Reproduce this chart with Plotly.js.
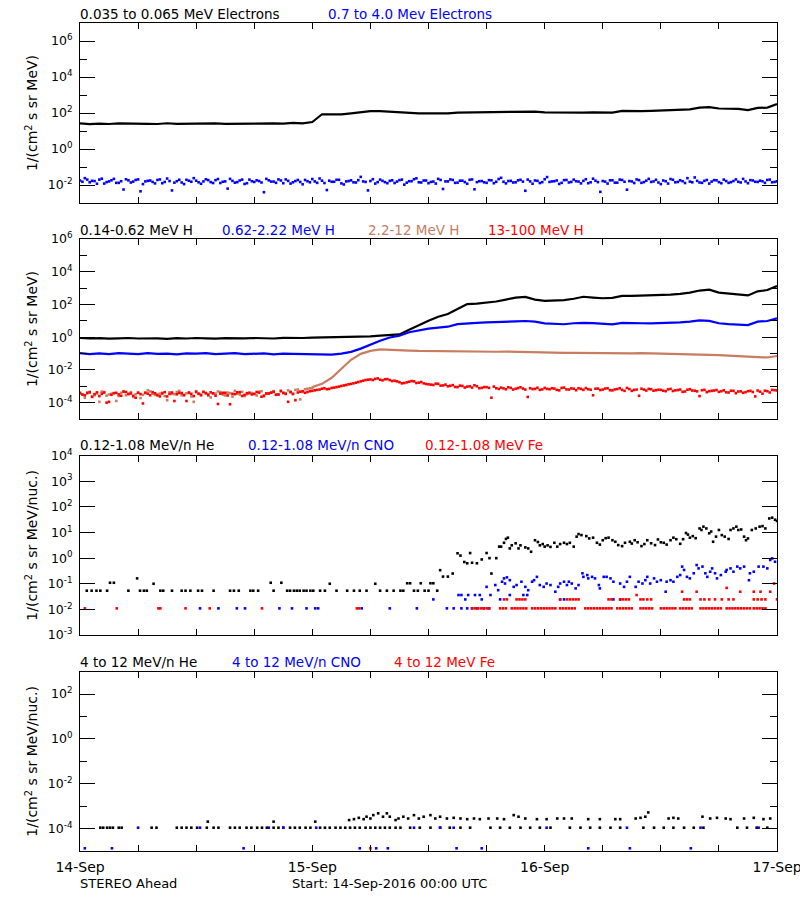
<!DOCTYPE html>
<html><head><meta charset="utf-8">
<script src="https://cdn.plot.ly/plotly-3.0.1.min.js"></script>
<style>html,body{margin:0;padding:0;background:#fff}#chart{width:800px;height:900px}</style>
</head><body><div id="chart"></div>
<script>
// ---------- time axis (hours since 14-Sep-2016 00:00 UTC) ----------
const dayHours = [0,24,48,72];
const dayLabels = ['14-Sep','15-Sep','16-Sep','17-Sep'];
const sixHourTicks = [6,12,18,30,36,42,54,60,66];

// ---------- Panel 1: electrons (log10 flux) ----------
// 0.035-0.065 MeV electrons, hourly from 0 h
const eLoLog = [1.42,1.38,1.41,1.39,1.42,1.40,1.41,1.40,1.39,1.43,1.40,1.41,1.40,1.42,1.42,1.40,1.41,1.43,1.41,1.43,1.42,1.41,1.45,1.42,
 1.50,1.93,1.92,1.92,1.98,2.05,2.10,2.10,2.07,
 2.00,1.99,1.98,1.98,1.97,1.98,2.02,2.03,2.03,2.04,2.05,2.05,2.06,2.05,2.08,2.03,2.02,2.01,2.02,2.02,2.03,2.04,2.02,2.12,2.09,2.10,2.12,2.13,2.15,2.17,2.20,2.30,2.33,2.25,2.24,2.23,2.16,2.28,2.30,2.50];
// 0.7-4.0 MeV electrons, every 0.5 h from 0 h
const eHiLog = [-1.75,-1.62,-1.85,-1.78,-1.70,-1.92,-1.80,-1.66,-1.88,-2.25,-1.74,-1.81,-1.69,-1.95,-1.77,-1.83,-1.72,-1.90,-1.64,-2.30,
 -1.79,-1.86,-1.71,-1.82,-1.76,-1.93,-1.68,-1.84,-1.73,-1.89,-1.80,-1.66,-1.87,-1.75,-1.94,-1.70,-1.83,-1.78,-2.40,-1.74,
 -1.81,-1.69,-1.90,-1.77,-1.85,-1.72,-1.96,-1.79,-1.67,-1.88,-1.76,-2.28,-1.82,-1.71,-1.91,-1.80,-1.74,-1.86,-1.55,-1.83,
 -1.78,-1.92,-1.70,-1.84,-1.77,-1.89,-1.73,-1.98,-1.79,-1.68,-1.85,-1.75,-1.90,-1.81,-1.66,-2.22,-1.80,-1.72,-1.87,-1.76,
 -1.93,-1.69,-1.84,-1.78,-1.88,-1.74,-1.82,-1.60,-1.91,-1.77,-1.85,-1.71,-2.32,-1.80,-1.75,-1.89,-1.68,-1.83,-1.79,-1.94,
 -1.73,-1.86,-1.70,-1.81,-1.77,-1.90,-1.65,-1.84,-1.78,-1.92,-1.74,-1.87,-1.72,-2.26,-1.80,-1.69,-1.88,-1.76,-1.83,-1.71,
 -1.95,-1.79,-1.67,-1.85,-1.74,-1.89,-1.81,-1.58,-1.86,-1.77,-1.92,-1.73,-1.84,-1.70,-1.88,-1.78,-1.82,-1.66,-1.90,-1.75,
 -1.83,-1.79,-1.72,-1.85,-1.80];
// same channel, the in-between samples (every 0.5 h from 0.25 h)
const eHiLogB = [-1.82,-1.70,-1.77,-1.93,-1.65,-1.84,-1.74,-1.88,-1.79,-1.68,-1.86,-1.72,-2.35,-1.80,-1.75,-1.91,-1.69,-1.83,-1.78,-1.87,
 -1.71,-1.95,-1.76,-1.62,-1.85,-1.80,-1.73,-1.89,-1.67,-1.82,-2.20,-1.77,-1.84,-1.70,-1.90,-1.79,-1.74,-1.86,-1.66,-1.81,
 -1.88,-1.75,-1.69,-1.92,-1.78,-1.83,-1.72,-1.85,-1.80,-1.64,-1.89,-1.76,-1.82,-1.71,-1.97,-1.78,-1.85,-1.73,-1.80,-2.30,
 -1.68,-1.84,-1.77,-1.90,-1.74,-1.81,-1.70,-1.87,-1.79,-1.63,-1.86,-1.75,-1.83,-1.92,-1.72,-1.80,-1.69,-1.88,-1.76,-1.84,
 -1.71,-2.24,-1.79,-1.85,-1.73,-1.90,-1.67,-1.82,-1.78,-1.86,-1.74,-1.81,-1.70,-1.93,-1.77,-1.84,-1.56,-1.80,-1.75,-1.88,
 -1.72,-1.83,-1.79,-1.91,-1.68,-1.85,-1.76,-2.38,-1.81,-1.74,-1.87,-1.70,-1.82,-1.78,-1.89,-1.73,-1.84,-1.66,-1.80,-1.86,
 -1.75,-1.92,-1.71,-1.83,-1.79,-1.62,-1.85,-1.77,-1.88,-1.72,-1.81,-1.74,-1.90,-1.78,-1.84,-1.69,-1.86,-1.80,-1.73,-1.82,
 -1.76,-1.88,-1.70,-1.83];

// ---------- Panel 2: protons (log10 flux) ----------
// 0.14-0.62 MeV H, hourly
const hLoLog = [-0.05,-0.08,-0.06,-0.09,-0.07,-0.05,-0.08,-0.06,-0.07,-0.10,-0.06,-0.08,-0.05,-0.07,-0.09,-0.06,-0.08,-0.07,-0.05,-0.06,-0.08,-0.04,-0.06,-0.05,
 -0.03,-0.02,-0.02,0.00,0.00,0.02,0.05,0.09,0.12,
 0.17,0.45,0.75,1.00,1.25,1.42,1.72,2.02,2.05,2.10,2.18,2.30,2.42,2.46,2.30,2.22,2.24,2.27,2.35,2.47,2.42,2.38,2.40,2.52,2.52,2.53,2.54,2.57,2.60,2.65,2.72,2.85,2.90,2.72,2.65,2.60,2.55,2.80,2.88,3.13];
// 0.62-2.22 MeV H, hourly
const hMidLog = [-0.98,-1.03,-0.99,-1.04,-0.97,-1.01,-1.04,-0.98,-1.02,-1.00,-1.05,-0.99,-1.01,-0.98,-1.03,-1.00,-0.97,-1.04,-1.01,-0.99,-1.05,-1.00,-1.02,-1.03,
 -1.05,-1.07,-1.06,-1.00,-0.90,-0.70,-0.45,-0.22,-0.02,
 0.09,0.30,0.42,0.52,0.58,0.64,0.80,0.86,0.88,0.90,0.91,0.93,0.97,0.99,0.95,0.84,0.80,0.79,0.85,0.88,0.86,0.82,0.78,0.87,0.84,0.85,0.84,0.85,0.86,0.90,0.95,1.03,1.00,0.85,0.80,0.76,0.74,0.95,0.99,1.15];
// 2.2-12 MeV H: every 0.5 h from 0 to 24 h (two interleaved sets), then hourly from 24 h
const hHiPreLog = [-3.45,-3.70,-3.40,-3.55,-3.95,-3.35,-3.50,-3.42,-3.60,-3.30,-3.48,-3.65,-3.38,-3.52,-3.25,-3.45,-3.58,-3.40,-3.85,-3.47,
 -3.35,-3.55,-3.43,-3.62,-3.30,-3.50,-3.40,-3.68,-3.45,-3.35,-3.56,-3.42,-3.28,-3.50,-3.60,-3.38,-3.46,-3.33,-3.55,-3.44,
 -3.30,-3.52,-3.40,-3.25,-3.48,-3.20,-3.35,-3.15,-3.10];
const hHiPreLogB = [-3.52,-3.38,-3.62,-3.44,-3.33,-3.57,-3.46,-3.90,-3.40,-3.55,-3.36,-3.49,-3.72,-3.42,-3.31,-3.53,-3.45,-3.60,-3.37,-3.48,
 -3.28,-3.56,-3.41,-3.95,-3.47,-3.35,-3.58,-3.44,-3.32,-3.51,-3.39,-3.63,-3.46,-3.34,-3.49,-3.41,-3.56,-3.30,-3.45,-3.38,
 -3.52,-3.27,-3.42,-3.33,-3.22,-3.80,-3.18,-3.12];
const hHiPostLog = [-3.05,-2.85,-2.48,-1.92,-1.38,-1.02,-0.84,-0.75,-0.76,-0.80,-0.82,-0.84,-0.85,-0.84,-0.85,-0.86,-0.85,-0.86,-0.88,-0.89,
 -0.88,-0.90,-0.92,-0.93,-0.95,-0.95,-0.96,-0.96,-0.97,-0.98,-0.99,-0.99,-0.99,-0.99,-0.98,-0.99,-1.00,-1.01,-1.02,-1.04,
 -1.06,-1.08,-1.10,-1.13,-1.17,-1.20,-1.22,-1.24,-1.15];
// 13-100 MeV H, every 0.5 h from 0 h, plus in-between samples from 0.25 h
const hTopLog = [-3.40,-3.55,-3.35,-3.48,-3.60,-3.38,-3.95,-3.42,-3.50,-3.33,-3.47,-3.58,-3.40,-4.05,-3.45,-3.36,-3.52,-3.44,-3.62,-3.38,
 -3.49,-3.41,-3.90,-3.46,-3.35,-3.55,-3.43,-3.37,-3.58,-3.45,-3.40,-4.10,-3.48,-3.36,-3.53,-3.42,-3.47,-3.39,-3.60,-3.44,
 -3.34,-3.50,-3.41,-3.95,-3.46,-3.38,-3.30,-3.35,-3.28,
 -3.22,-3.15,-3.18,-3.10,-3.05,-2.98,-2.92,-2.85,-2.78,-2.70,-2.62,
 -2.58,-2.55,-2.60,-2.57,-2.62,-2.66,-2.75,-2.80,-2.72,-2.70,-2.78,-2.82,
 -2.88,-2.92,-2.85,-2.95,-3.00,-2.93,-3.05,-2.98,-3.02,-3.08,-3.00,-3.10,
 -3.05,-3.70,-3.12,-3.08,-3.18,-3.10,-3.15,-3.06,-3.20,-3.12,-3.16,-3.22,
 -3.10,-3.18,-3.14,-3.25,-3.08,-3.20,-3.15,-3.12,-3.22,-3.18,-3.55,-3.14,
 -3.20,-3.12,-3.25,-3.17,-3.22,-3.10,-3.28,-3.20,-3.15,-3.26,-3.18,-3.24,
 -3.22,-3.30,-3.16,-3.25,-3.20,-3.32,-3.18,-3.27,-3.60,-3.22,-3.30,-3.26,
 -3.34,-3.25,-3.38,-3.28,-3.32,-3.40,-3.30,-3.35,-3.26,-3.45,-3.30,-3.22,-3.25];
const hTopLogB = [-3.50,-3.42,-3.65,-3.37,-3.46,-4.00,-3.52,-3.40,-3.58,-3.35,-3.44,-3.70,-3.48,-3.39,-3.55,-3.43,-3.62,-3.36,-3.47,-3.90,
 -3.41,-3.53,-3.38,-3.60,-3.45,-3.34,-3.51,-3.43,-4.08,-3.40,-3.56,-3.46,-3.37,-3.59,-3.42,-3.50,-3.35,-3.64,-3.44,-3.39,
 -3.52,-3.30,-3.47,-3.36,-3.85,-3.33,-3.40,-3.30,
 -3.25,-3.20,-3.12,-3.16,-3.08,-3.02,-2.95,-2.88,-2.82,-2.74,-2.66,-2.60,
 -2.62,-2.52,-2.64,-2.56,-2.68,-2.70,-2.82,-2.76,-2.68,-2.80,-2.74,-2.86,
 -2.90,-2.84,-2.96,-2.90,-2.97,-3.04,-2.96,-3.08,-3.00,-2.94,-3.12,-3.05,
 -3.10,-3.02,-3.16,-3.13,-3.06,-3.20,-3.11,-3.14,-3.65,-3.17,-3.09,-3.19,
 -3.16,-3.12,-3.22,-3.10,-3.19,-3.13,-3.24,-3.16,-3.11,-3.21,-3.15,-3.23,
 -3.14,-3.24,-3.19,-3.12,-3.28,-3.17,-3.22,-3.58,-3.20,-3.16,-3.27,-3.21,
 -3.27,-3.19,-3.29,-3.23,-3.34,-3.21,-3.26,-3.31,-3.24,-3.36,-3.28,-3.23,
 -3.30,-3.37,-3.27,-3.42,-3.31,-3.36,-3.28,-3.62,-3.33,-3.27,-3.38,-3.24];

// ---------- Panel 3: 0.12-1.08 MeV/n ions (hours, log10 flux) ----------
const he3PreT = [0.7,1.2,1.7,2.1,2.8,3.1,3.5,5.0,5.9,6.2,6.6,6.9,7.6,8.3,8.6,9.5,10.5,10.9,11.4,12.2,12.6,13.8,15.5,15.9,16.4,17.6,17.9,18.4,19.7,20.0,
 20.8,21.4,21.7,22.1,22.4,22.7,23.1,23.4,23.8,24.1,24.8,25.3,25.8,26.5,27.6,28.3,28.9,29.6,30.5,31.0,31.7,32.4,33.1,33.4,33.8,34.1,34.5,34.9,35.2,35.6,
 36.0,36.2,36.5,36.9];
const he3PreV = [-1.27,-1.27,-1.27,-1.27,-1.27,-0.96,-0.96,-1.27,-0.79,-1.27,-1.27,-1.27,-1.00,-1.27,-1.27,-1.27,-1.27,-1.27,-1.27,-1.27,-1.27,-1.27,-1.27,-1.27,-1.27,-1.27,-1.27,-1.27,-0.96,-1.27,
 -0.96,-1.27,-1.27,-1.27,-1.27,-1.27,-1.27,-1.27,-1.27,-1.27,-1.27,-1.27,-1.00,-1.27,-1.27,-1.27,-1.27,-1.27,-1.00,-1.27,-1.27,-1.27,-1.27,-1.27,-0.98,-0.98,-1.27,-1.27,-0.98,-1.27,
 -1.27,-0.98,-0.98,-1.27];
const he3PostT = [37.2,37.5,38.0,38.5,39.0,39.3,39.7,40.0,40.3,40.5,41.0,41.5,42.0,42.3,42.5,43.0,43.3,43.5,43.8,44.0,
 44.2,44.4,44.6,45.0,45.3,45.5,46.0,46.3,46.6,47.0,47.3,47.5,47.8,48.0,48.3,48.6,49.0,49.3,49.6,50.0,
 50.3,50.6,51.0,51.3,51.5,51.8,52.3,52.6,53.0,53.4,53.7,54.0,54.3,54.6,55.0,55.3,55.6,56.0,56.3,56.8,
 57.0,57.3,57.6,58.0,58.3,58.6,59.0,59.4,59.7,60.0,60.3,60.6,61.0,61.3,61.6,62.0,62.3,62.6,62.8,63.0,
 63.3,63.6,64.0,64.2,64.4,64.7,65.0,65.2,65.4,65.7,66.0,66.3,66.6,67.0,67.2,67.5,67.8,68.0,68.3,68.6,
 68.8,69.0,69.4,69.8,70.2,70.5,70.8,71.2,71.5,71.8,72.0];
const he3PostV = [-0.47,-0.72,-0.72,-0.60,0.19,0.10,-0.15,-0.20,0.20,-0.18,-0.20,-0.05,0.20,0.00,-0.60,0.00,0.45,0.45,0.60,0.75,
 0.80,0.38,0.50,0.58,0.38,0.50,0.42,0.38,0.25,0.70,0.63,0.50,0.55,0.45,0.50,0.44,0.60,0.45,0.55,0.60,
 0.55,0.60,0.45,0.84,0.94,0.90,0.86,0.77,0.80,0.60,0.53,0.70,0.78,0.80,0.70,0.64,0.51,0.47,0.60,0.64,
 0.57,0.70,0.62,0.47,0.55,0.70,0.58,0.51,0.73,0.62,0.60,0.53,0.70,0.80,0.74,0.56,0.74,0.98,0.92,0.80,
 0.86,0.78,1.16,1.10,1.23,1.16,0.97,1.04,0.64,0.84,1.10,0.90,0.84,0.75,1.10,1.16,1.23,1.10,1.12,0.84,
 0.70,0.77,1.10,1.16,1.23,1.25,1.16,1.55,1.58,1.50,1.45];
const cno3T = [12.4,14.3,16.2,17.05,20.6,21.9,23.4,24.3,24.6,29.1,32.0,
 34.8,36.5,37.9,38.6,39.1,39.4,39.4,39.8,40.0,40.1,40.5,40.8,41.0,41.3,41.5,41.7,42.0,42.2,42.4,42.9,
 43.2,43.4,43.6,43.8,43.9,44.1,44.4,44.4,44.8,45.1,45.6,45.8,46.0,46.2,46.3,46.7,46.9,47.2,47.5,47.9,
 48.2,48.6,49.1,49.4,49.6,49.6,50.0,50.0,50.3,50.5,50.8,51.2,51.5,51.9,52.0,52.4,52.5,52.9,53.2,53.6,
 53.7,54.1,54.4,54.8,55.1,55.1,55.8,55.8,56.2,56.5,56.8,57.4,57.7,58.1,58.4,58.6,58.9,59.3,59.6,60.0,
 60.5,60.6,61.0,61.3,61.7,62.0,62.2,62.4,62.7,63.0,63.4,63.7,63.9,64.3,64.6,64.8,65.1,65.3,65.6,65.8,
 66.2,66.7,66.8,67.2,67.5,67.9,68.2,68.6,69.1,69.2,69.6,70.1,70.6,71.0,71.3,71.5,71.8];
const cno3V = [-1.96,-1.96,-1.96,-1.96,-1.96,-1.96,-1.96,-1.96,-1.96,-1.96,-1.96,
 -1.96,-1.61,-1.96,-1.96,-1.44,-1.44,-1.96,-1.61,-1.96,-1.44,-1.96,-1.44,-1.96,-1.44,-1.61,-1.96,-1.12,-1.96,-1.44,-1.05,
 -1.25,-1.61,-0.92,-0.79,-0.99,-0.75,-0.86,-1.44,-1.12,-1.05,-0.92,-1.44,-1.12,-1.44,-1.25,-0.92,-0.86,-0.73,-1.05,-1.12,
 -0.99,-1.05,-1.31,-1.12,-0.99,-1.61,-0.92,-1.61,-1.05,-0.92,-0.99,-1.18,-1.05,-0.59,-0.73,-0.66,-0.79,-0.73,-0.79,-1.05,
 -1.18,-0.73,-0.73,-0.79,-0.92,-1.61,-0.99,-1.61,-1.12,-0.92,-0.73,-1.12,-0.92,-0.99,-0.86,-0.73,-0.99,-0.79,-0.92,-0.86,
 -1.31,-0.92,-0.86,-0.92,-0.73,-0.66,-0.33,-0.46,-0.73,-0.79,-0.59,-0.27,-0.40,-0.33,-0.59,-0.73,-0.53,-0.40,-0.59,-0.79,
 -0.66,-0.53,-0.46,-0.40,-0.53,-0.33,-0.40,-0.33,-0.86,-0.59,-0.53,-0.33,-0.33,-0.40,-0.07,-0.01,-0.14];
const fe3T = [0.5,3.8,8.1,8.3,10.9,13.4,18.8,28.6,28.8,
 40.5,40.8,41.1,41.4,41.7,42.0,42.3,43.4,43.7,44.0,44.6,44.9,45.2,45.5,45.8,46.1,46.7,47.0,47.3,47.6,
 47.9,48.2,48.5,48.8,49.1,49.6,49.9,50.2,50.5,50.8,51.1,52.2,52.5,52.8,53.1,53.4,53.7,54.0,54.3,54.6,
 54.9,55.5,55.8,56.1,56.4,56.7,57.0,57.9,58.2,58.5,58.8,59.1,60.0,60.3,60.6,60.9,61.2,61.5,62.0,62.3,
 62.6,62.9,63.2,64.1,64.4,64.7,65.0,65.3,65.6,65.9,66.2,66.8,67.1,67.4,67.7,68.0,68.3,68.6,68.9,69.2,
 69.6,69.9,70.2,70.5,70.8,
 43.8,44.1,45.1,45.4,45.7,46.0,49.6,50.3,50.6,50.9,51.2,51.5,54.6,54.9,55.8,56.1,56.4,56.7,57.9,58.2,
 58.6,59.0,62.4,62.7,63.0,64.1,64.5,65.0,65.6,66.3,67.0,67.5,69.6,70.0,70.4,70.8,72.0,
 57.5,62.2,63.7,68.2,69.6,70.3,71.3,66.8,71.7];
const fe3V = [-1.96,-1.96,-1.96,-1.96,-1.96,-1.96,-1.96,-1.96,-1.96,
 -1.96,-1.96,-1.96,-1.96,-1.96,-1.96,-1.96,-1.96,-1.96,-1.96,-1.96,-1.96,-1.96,-1.96,-1.96,-1.96,-1.96,-1.96,-1.96,-1.96,
 -1.96,-1.96,-1.96,-1.96,-1.96,-1.96,-1.96,-1.96,-1.96,-1.96,-1.96,-1.96,-1.96,-1.96,-1.96,-1.96,-1.96,-1.96,-1.96,-1.96,
 -1.96,-1.96,-1.96,-1.96,-1.96,-1.96,-1.96,-1.96,-1.96,-1.96,-1.96,-1.96,-1.96,-1.96,-1.96,-1.96,-1.96,-1.96,-1.96,-1.96,
 -1.96,-1.96,-1.96,-1.96,-1.96,-1.96,-1.96,-1.96,-1.96,-1.96,-1.96,-1.96,-1.96,-1.96,-1.96,-1.96,-1.96,-1.96,-1.96,-1.96,
 -1.96,-1.96,-1.96,-1.96,-1.96,
 -1.61,-1.61,-1.61,-1.61,-1.61,-1.61,-1.61,-1.61,-1.61,-1.61,-1.61,-1.61,-1.61,-1.61,-1.61,-1.61,-1.61,-1.61,-1.61,-1.61,
 -1.61,-1.61,-1.61,-1.61,-1.61,-1.61,-1.61,-1.61,-1.61,-1.61,-1.61,-1.61,-1.61,-1.61,-1.61,-1.61,-1.61,
 -1.44,-1.31,-1.31,-1.31,-1.31,-1.31,-1.31,-1.16,-0.99];

// ---------- Panel 4: 4-12 MeV/n ions (hours, log10 flux) ----------
const he4T = [2.1,2.4,2.8,3.1,3.4,4.0,4.3,7.4,7.9,10.0,10.5,11.0,11.5,12.1,13.1,13.8,14.3,15.5,16.0,16.5,
 17.2,17.7,18.3,18.8,19.3,20.0,20.5,21.0,21.7,22.2,22.7,23.3,23.8,24.8,25.3,25.8,26.4,26.9,27.4,27.9,
 28.4,28.9,29.5,30.0,30.5,31.0,31.5,32.0,32.6,33.1,34.1,35.1,36.2,37.2,38.2,39.3,40.3,42.4,43.4,44.4,
 45.5,46.5,47.5,48.6,50.6,51.7,52.7,53.7,54.8,55.8,58.2,59.3,60.3,61.3,62.4,63.4,64.4,67.9,68.9,69.9,71.0,
 13.2,20.0,24.3,27.8,28.3,28.8,29.3,29.6,30.0,30.3,30.8,31.3,31.7,32.0,32.6,32.9,33.4,33.9,34.5,35.0,
 35.5,36.2,36.7,37.2,37.9,38.6,39.3,40.0,40.7,41.3,42.2,43.1,43.8,44.8,45.3,46.0,47.2,48.2,49.3,50.0,
 50.8,52.5,53.7,55.3,55.8,57.4,57.9,58.4,58.7,60.8,61.3,61.8,64.3,65.1,65.8,66.7,67.2,68.6,69.6,70.6,71.3];
const he4V = [-3.96,-3.96,-3.96,-3.96,-3.96,-3.96,-3.96,-3.96,-3.96,-3.96,-3.96,-3.96,-3.96,-3.96,-3.96,-3.96,-3.96,-3.96,-3.96,-3.96,
 -3.96,-3.96,-3.96,-3.96,-3.96,-3.96,-3.96,-3.96,-3.96,-3.96,-3.96,-3.96,-3.96,-3.96,-3.96,-3.96,-3.96,-3.96,-3.96,-3.96,
 -3.96,-3.96,-3.96,-3.96,-3.96,-3.96,-3.96,-3.96,-3.96,-3.96,-3.96,-3.96,-3.96,-3.96,-3.96,-3.96,-3.96,-3.96,-3.96,-3.96,
 -3.96,-3.96,-3.96,-3.96,-3.96,-3.96,-3.96,-3.96,-3.96,-3.96,-3.96,-3.96,-3.96,-3.96,-3.96,-3.96,-3.96,-3.96,-3.96,-3.96,-3.96,
 -3.69,-3.69,-3.69,-3.62,-3.58,-3.52,-3.58,-3.47,-3.55,-3.40,-3.32,-3.47,-3.32,-3.47,-3.62,-3.55,-3.47,-3.55,-3.40,-3.55,
 -3.47,-3.40,-3.55,-3.47,-3.55,-3.52,-3.55,-3.58,-3.55,-3.58,-3.55,-3.55,-3.58,-3.40,-3.47,-3.55,-3.58,-3.58,-3.55,-3.55,
 -3.55,-3.58,-3.58,-3.58,-3.58,-3.55,-3.52,-3.47,-3.28,-3.55,-3.52,-3.55,-3.47,-3.55,-3.52,-3.55,-3.58,-3.55,-3.52,-3.58,-3.55];
const cno4T = [0.5,3.3,16.9,28.9,30.6,31.8,38.9,41.5,52.5,56.8,63.1,6.0,12.4,19.5,21.0,24.4,34.5,37.2,38.6,48.2,56.5,64.1,70.1];
const cno4V = [-4.88,-4.88,-4.88,-4.88,-4.88,-4.88,-4.88,-4.88,-4.88,-4.88,-4.88,-3.96,-3.96,-3.96,-3.96,-3.96,-3.96,-3.96,-3.96,-3.96,-3.96,-3.96,-3.96];
const fe4T = [30.0];
const fe4V = [-4.88];

// ---------- axis decades ----------
const p1Major = [-2,0,2,4,6],  p1Minor = [-1,1,3,5];
const p2Major = [-4,-2,0,2,4,6], p2Minor = [-3,-1,1,3,5];
const p3Major = [-3,-2,-1,0,1,2,3,4];
const p4Major = [-4,-2,0,2], p4Minor = [-3,-1,1];

// ---------- build ----------
const BLACK = '#000000', BLUE = '#0000ff', RED = '#ff0000', BROWN = 'rgb(200,124,96)';
const p10 = a => a.map(v => Math.pow(10, v));
const axn = i => i === 1 ? '' : String(i);
function lineSeq(y, x0, dx, color, p) {
  return {type:'scatter', mode:'lines', y:p10(y), x0:x0, dx:dx, line:{color:color, width:2.2},
          xaxis:'x'+axn(p), yaxis:'y'+axn(p), hoverinfo:'skip'};
}
function dotSeq(y, x0, dx, color, p) {
  return {type:'scatter', mode:'markers', y:p10(y), x0:x0, dx:dx,
          marker:{symbol:'square', size:2.6, color:color, line:{width:0}},
          xaxis:'x'+axn(p), yaxis:'y'+axn(p), hoverinfo:'skip'};
}
function dots(x, y, color, p) {
  return {type:'scatter', mode:'markers', x:x, y:p10(y),
          marker:{symbol:'square', size:2.6, color:color, line:{width:0}},
          xaxis:'x'+axn(p), yaxis:'y'+axn(p), hoverinfo:'skip'};
}

const traces = [
  lineSeq(eLoLog, 0, 1, BLACK, 1),
  dotSeq(eHiLog, 0, 0.5, BLUE, 1),
  dotSeq(eHiLogB, 0.25, 0.5, BLUE, 1),
  lineSeq(hLoLog, 0, 1, BLACK, 2),
  lineSeq(hMidLog, 0, 1, BLUE, 2),
  dotSeq(hHiPreLog, 0, 0.5, BROWN, 2),
  dotSeq(hHiPreLogB, 0.25, 0.5, BROWN, 2),
  lineSeq(hHiPostLog, 24, 1, BROWN, 2),
  dotSeq(hTopLog, 0, 0.5, RED, 2),
  dotSeq(hTopLogB, 0.25, 0.5, RED, 2),
  dots(he3PreT.concat(he3PostT), he3PreV.concat(he3PostV), BLACK, 3),
  dots(cno3T, cno3V, BLUE, 3),
  dots(fe3T, fe3V, RED, 3),
  dots(he4T, he4V, BLACK, 4),
  dots(cno4T, cno4V, BLUE, 4),
  dots(fe4T, fe4V, RED, 4)
];

// plot area: x 80..777 px, y 23..851 px
const L = 80, R = 777, T = 23, B = 851;
const py = y => (B - y) / (B - T);
const px = x => (x - L) / (R - L);

function xax(p, labels) {
  const ax = {domain:[0,1], range:[0,72], anchor:'y'+axn(p), tickmode:'array', tickvals:dayHours,
    showticklabels: labels,
    ticks:'inside', ticklen:6, tickwidth:1, tickcolor:'#000', mirror:'ticks', showline:true,
    linecolor:'#000', linewidth:1, showgrid:false, zeroline:false,
    minor:{tickmode:'array', tickvals:sixHourTicks, ticks:'inside', ticklen:6, tickwidth:1, tickcolor:'#000', showgrid:false},
    automargin:false, fixedrange:true};
  if (labels) {
    ax.ticktext = dayLabels;
    ax.ticklabeloverflow = 'allow';
    ax.ticklabelstandoff = 3;
    ax.tickfont = {size:14};
  }
  return ax;
}
function yax(p, domain, range, major, minor, title) {
  const ax = {type:'log', domain:domain, range:range, anchor:'x'+axn(p), tickmode:'array',
    tickvals: major.map(e => Math.pow(10, e)), ticktext: major.map(e => '10<sup>' + e + '</sup>'),
    ticks:'inside', ticklen:15, tickwidth:1, tickcolor:'#000', mirror:'ticks', showline:true,
    linecolor:'#000', linewidth:1, showgrid:false, zeroline:false, tickfont:{size:12.5},
    ticklabelstandoff:4, automargin:false, fixedrange:true,
    title:{text:title, font:{size:14}, standoff:6}};
  if (minor) ax.minor = {tickmode:'array', tickvals: minor.map(e => Math.pow(10, e)), ticks:'inside',
    ticklen:7, tickwidth:1, tickcolor:'#000', showgrid:false};
  return ax;
}
const tMeV = '1/(cm<sup>2</sup> s sr MeV)';
const tNuc = '1/(cm<sup>2</sup> s sr MeV/nuc.)';

function ann(text, x, y, color, size) {
  return {text:text, x:px(x), y:py(y), xref:'paper', yref:'paper', xanchor:'left', yanchor:'middle',
          showarrow:false, borderpad:0, borderwidth:0, font:{size:size || 13.5, color:color}};
}

const layout = {
  width:800, height:900, margin:{l:L, r:800-R, t:T, b:900-B},
  paper_bgcolor:'#fff', plot_bgcolor:'#fff', showlegend:false,
  font:{family:'DejaVu Sans, sans-serif', size:13, color:'#000'},
  xaxis: xax(1, false), xaxis2: xax(2, false), xaxis3: xax(3, false), xaxis4: xax(4, true),
  yaxis:  yax(1, [py(203), 1], [-3, 7], p1Major, p1Minor, tMeV),
  yaxis2: yax(2, [py(419), py(239)], [-5, 6], p2Major, p2Minor, tMeV),
  yaxis3: yax(3, [py(635), py(455.7)], [-3, 4], p3Major, null, tNuc),
  yaxis4: yax(4, [0, py(671.7)], [-5, 3], p4Major, p4Minor, tNuc),
  annotations: [
    ann('0.035 to 0.065 MeV Electrons', 80, 14, BLACK),
    ann('0.7 to 4.0 Mev Electrons', 328, 14, BLUE),
    ann('0.14-0.62 MeV H', 80, 229.5, BLACK),
    ann('0.62-2.22 MeV H', 222, 229.5, BLUE),
    ann('2.2-12 MeV H', 368, 229.5, BROWN),
    ann('13-100 MeV H', 488, 229.5, RED),
    ann('0.12-1.08 MeV/n He', 80, 445, BLACK),
    ann('0.12-1.08 MeV/n CNO', 248, 445, BLUE),
    ann('0.12-1.08 MeV Fe', 425, 445, RED),
    ann('4 to 12 MeV/n He', 80, 662, BLACK),
    ann('4 to 12 MeV/n CNO', 232, 662, BLUE),
    ann('4 to 12 MeV Fe', 394, 662, RED),
    ann('STEREO Ahead', 80, 883, BLACK, 13),
    ann('Start: 14-Sep-2016 00:00 UTC', 292, 883, BLACK, 13)
  ]
};

Plotly.newPlot('chart', traces, layout, {staticPlot:true, displayModeBar:false});
</script></body></html>
